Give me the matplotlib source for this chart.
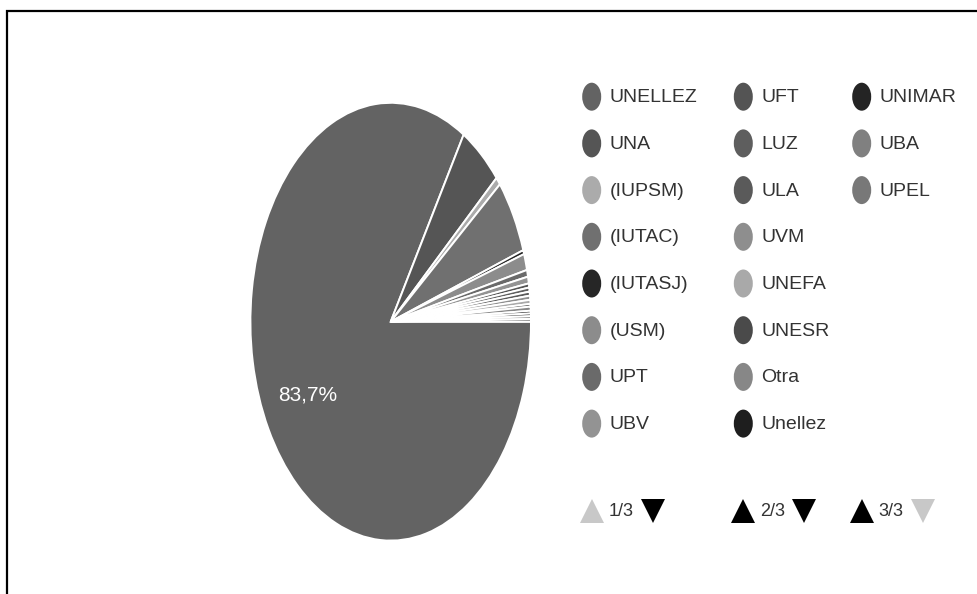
import matplotlib
matplotlib.use('Agg')
import matplotlib.pyplot as plt
from matplotlib.patches import Ellipse

# universities, in the order of the data table (legend pages are columns)
labels = ["UNELLEZ", "UNA", "(IUPSM)", "(IUTAC)", "(IUTASJ)", "(USM)", "UPT", "UBV",
          "UFT", "LUZ", "ULA", "UVM", "UNEFA", "UNESR", "Otra", "Unellez",
          "UNIMAR", "UBA", "UPEL"]
shares = [83.7, 4.9, 0.6, 5.5, 0.3, 1.2, 0.5, 0.5,
          0.3, 0.3, 0.3, 0.3, 0.3, 0.2, 0.3, 0.2,
          0.2, 0.2, 0.2]
pages = ["1/3", "2/3", "3/3"]

grays = ["#636363", "#555555", "#ababab", "#707070", "#262626", "#8c8c8c", "#6a6a6a", "#939393",
         "#545454", "#5e5e5e", "#5a5a5a", "#8e8e8e", "#a9a9a9", "#4a4a4a", "#878787", "#1e1e1e",
         "#242424", "#808080", "#787878"]

plt.rcParams['font.family'] = ['Liberation Sans', 'DejaVu Sans']

W, H = 978, 594
fig = plt.figure(figsize=(W / 100, H / 100), dpi=100)

# pie is stretched vertically in the reference, so use an auto-aspect axes
cx, cy, a, b = 390.7, 321.7, 141, 220
ax = fig.add_axes([(cx - a) / W, (H - cy - b) / H, 2 * a / W, 2 * b / H])


def pct(p):
    return ("%.1f%%" % p).replace(".", ",") if p > 50 else ""


wedges, texts, autotexts = ax.pie(shares, colors=grays, startangle=0, counterclock=False,
                                  autopct=pct, pctdistance=0.68,
                                  wedgeprops=dict(edgecolor="white", linewidth=1.4))
for t in autotexts:
    t.set_color("white")
    t.set_fontsize(15)
ax.set_xlim(-1.005, 1.005)
ax.set_ylim(-1.005, 1.005)
ax.set_aspect('auto')

# overlay in pixel coordinates for legend, pager and frame
ov = fig.add_axes([0, 0, 1, 1])
ov.set_xlim(0, W)
ov.set_ylim(H, 0)
ov.axis('off')
ov.patch.set_alpha(0)

col_x = [591.7, 743.3, 861.7]
row_y0, row_dy = 96.7, 46.7
per_col = 8
for i, (lab, g) in enumerate(zip(labels, grays)):
    c = i // per_col
    r = i % per_col
    if c == 2:
        r = i - 16
    x = col_x[c]
    y = row_y0 + r * row_dy
    ov.add_patch(Ellipse((x, y), 19, 28, facecolor=g, edgecolor="none"))
    ov.text(x + 18, y + 1, lab, fontsize=14, color="#333333", va="center", ha="left")

# legend pager arrows
pager_y = 511
for c, page in enumerate(pages):
    x = col_x[c]
    up_col = "#c8c8c8" if c == 0 else "black"
    down_col = "#c8c8c8" if c == len(pages) - 1 else "black"
    ov.plot([x], [pager_y], marker="^", markersize=17, color=up_col, markeredgewidth=0)
    ov.text(x + 17, pager_y, page, fontsize=13, color="#333333", va="center", ha="left")
    ov.plot([x + 61], [pager_y], marker="v", markersize=17, color=down_col, markeredgewidth=0)

# frame: left and top border
ov.plot([7, 7, W], [H, 11, 11], color="black", linewidth=1.6, solid_joinstyle="miter")

fig.savefig("out.png", dpi=100)
